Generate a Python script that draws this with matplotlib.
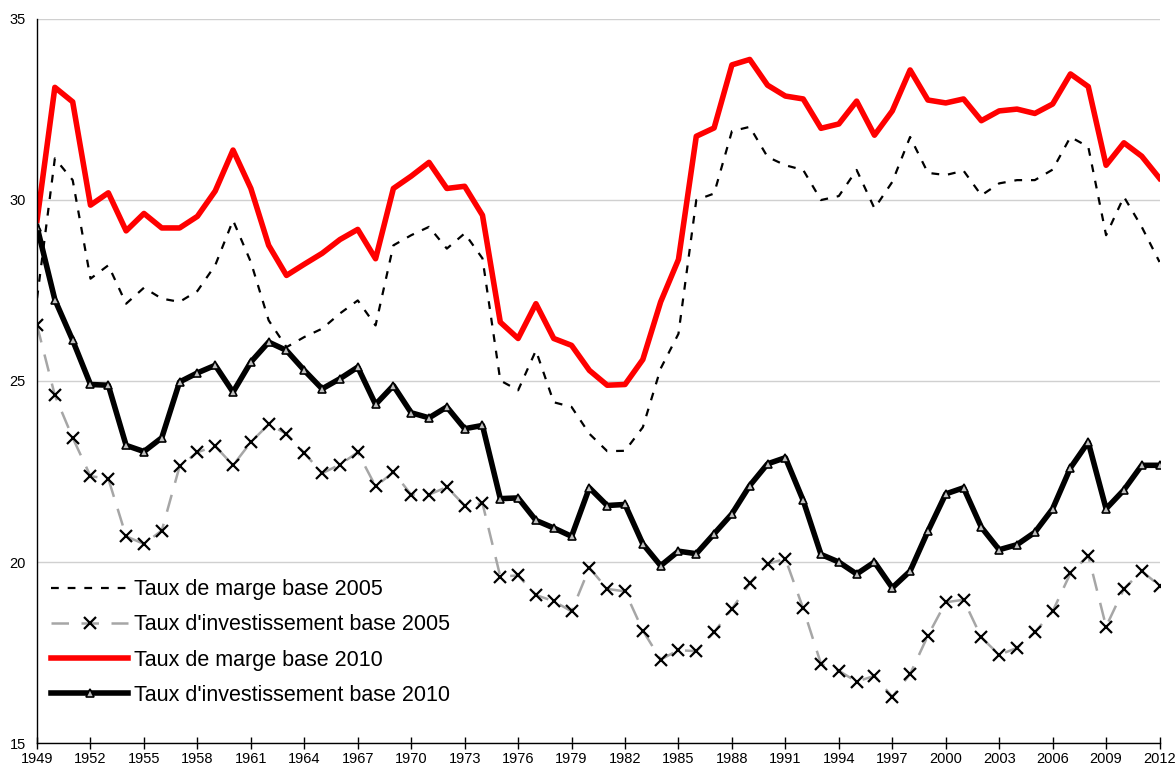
import matplotlib.pyplot as plt
import numpy as np

plt.rcParams['font.family'] = ['Liberation Sans', 'DejaVu Sans']

years = np.arange(1949, 2013)

# Taux de marge base 2005
marge_2005 = [27.28, 31.14, 30.54, 27.82, 28.19, 27.13, 27.57, 27.27, 27.18, 27.48,
              28.19, 29.43, 28.28, 26.67, 25.93, 26.21, 26.44, 26.86, 27.22, 26.53,
              28.74, 29.02, 29.25, 28.65, 29.07, 28.38, 25.01, 24.74, 25.84, 24.41,
              24.28, 23.54, 23.06, 23.07, 23.72, 25.34, 26.30, 29.99, 30.17, 31.89,
              32.01, 31.18, 30.95, 30.82, 29.99, 30.10, 30.82, 29.76, 30.49, 31.73,
              30.74, 30.68, 30.80, 30.12, 30.45, 30.54, 30.54, 30.83, 31.73, 31.46,
              29.02, 30.08, 29.25, 28.28]

# Taux d'investissement base 2005
invest_2005 = [26.53, 24.60, 23.43, 22.37, 22.30, 20.71, 20.50, 20.87, 22.64, 23.03,
               23.20, 22.67, 23.31, 23.80, 23.54, 23.01, 22.45, 22.69, 23.03, 22.09,
               22.48, 21.86, 21.86, 22.07, 21.56, 21.62, 19.60, 19.63, 19.09, 18.92,
               18.64, 19.84, 19.26, 19.19, 18.11, 17.31, 17.57, 17.54, 18.06, 18.71,
               19.41, 19.95, 20.09, 18.72, 17.19, 17.00, 16.70, 16.86, 16.28, 16.91,
               17.97, 18.89, 18.96, 17.92, 17.44, 17.63, 18.06, 18.64, 19.69, 20.18,
               18.22, 19.26, 19.75, 19.35]

# Taux de marge base 2010
marge_2010 = [29.43, 33.10, 32.70, 29.85, 30.19, 29.14, 29.62, 29.22, 29.22, 29.54,
              30.24, 31.37, 30.31, 28.74, 27.91, 28.22, 28.52, 28.90, 29.18, 28.37,
              30.31, 30.65, 31.03, 30.31, 30.37, 29.57, 26.62, 26.17, 27.13, 26.17,
              25.98, 25.29, 24.88, 24.90, 25.59, 27.18, 28.35, 31.75, 31.98, 33.72,
              33.87, 33.16, 32.86, 32.78, 31.97, 32.09, 32.72, 31.78, 32.45, 33.58,
              32.75, 32.67, 32.78, 32.18, 32.45, 32.50, 32.38, 32.64, 33.47, 33.12,
              30.95, 31.57, 31.20, 30.59]

# Taux d'investissement base 2010
invest_2010 = [29.25, 27.24, 26.12, 24.90, 24.88, 23.22, 23.05, 23.43, 24.97, 25.22,
               25.43, 24.69, 25.52, 26.07, 25.84, 25.29, 24.78, 25.06, 25.38, 24.35,
               24.87, 24.12, 23.98, 24.28, 23.68, 23.77, 21.75, 21.77, 21.15, 20.94,
               20.71, 22.05, 21.56, 21.59, 20.50, 19.90, 20.30, 20.23, 20.78, 21.33,
               22.11, 22.71, 22.88, 21.70, 20.21, 20.00, 19.67, 20.00, 19.29, 19.75,
               20.85, 21.88, 22.05, 20.96, 20.34, 20.48, 20.82, 21.47, 22.60, 23.31,
               21.47, 21.99, 22.67, 22.67]

fig = plt.figure(figsize=(11.76, 7.71), dpi=100)
ax = fig.add_axes([0.0315, 0.036, 0.9545, 0.94])

ax.plot(years, marge_2005, color='black', lw=1.6, dashes=(3.5, 4),
        label='Taux de marge base 2005')
ax.plot(years, invest_2005, color='#a6a6a6', lw=1.8, dashes=(7, 5),
        marker='x', ms=8, mec='black', mew=1.6,
        label="Taux d'investissement base 2005")
ax.plot(years, marge_2010, color='#ff0000', lw=4,
        label='Taux de marge base 2010')
ax.plot(years, invest_2010, color='black', lw=4,
        marker='^', ms=6, mfc='#bfbfbf', mec='black', mew=1.2,
        label="Taux d'investissement base 2010")

ax.set_xlim(1949, 2012)
ax.set_ylim(15, 35)
ax.set_xticks(np.arange(1949, 2013, 3))
ax.set_yticks([15, 20, 25, 30, 35])
ax.tick_params(axis='x', direction='inout', length=8, width=1, labelsize=10.5, pad=2)
ax.tick_params(axis='y', length=0, labelsize=10.5, pad=8)
ax.yaxis.grid(True, color='#d0d0d0', lw=1)
ax.set_axisbelow(True)
for s in ['top', 'right']:
    ax.spines[s].set_visible(False)
ax.spines['left'].set_linewidth(1)
ax.spines['bottom'].set_linewidth(1)

ax.legend(loc='lower left', bbox_to_anchor=(-0.005, 0.025), frameon=False,
          fontsize=15.5, handlelength=3.6, handletextpad=0.25, labelspacing=0.66)

plt.savefig('out.png', dpi=100)
